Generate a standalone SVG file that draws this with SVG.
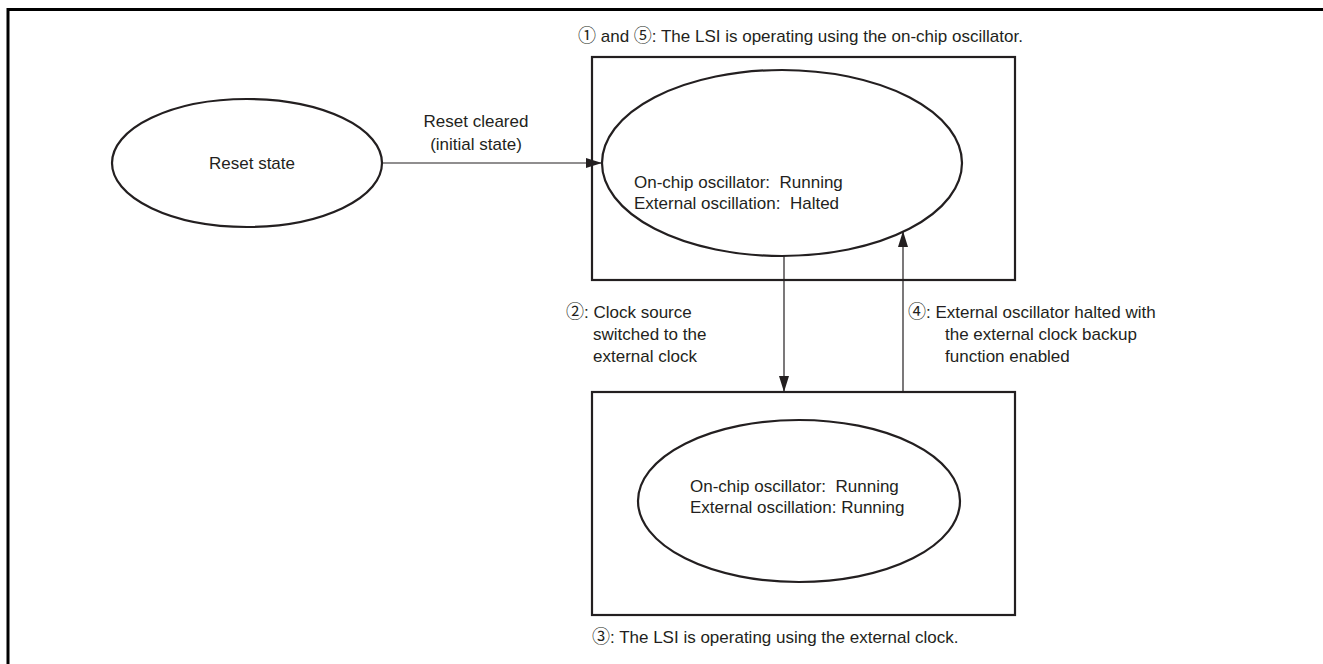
<svg xmlns="http://www.w3.org/2000/svg" width="1323" height="664" viewBox="0 0 1323 664">
  <style>
    text { font-family: "Liberation Sans", "DejaVu Sans", Arial, sans-serif; font-size: 17px; fill: #231f20; white-space: pre; }
    .num { font-family: "Noto Sans CJK JP", "DejaVu Sans", sans-serif; font-size: 18px; }
    .frame { fill: none; stroke: #000; stroke-width: 3; }
    .box { fill: none; stroke: #231f20; stroke-width: 2.2; }
    .state { fill: #fff; stroke: #231f20; stroke-width: 2.2; }
    .link { fill: none; stroke: #231f20; stroke-width: 1.2; }
  </style>
  <defs>
    <marker id="arrow" viewBox="0 0 16 10" refX="16" refY="5" markerWidth="16" markerHeight="10" markerUnits="userSpaceOnUse" orient="auto">
      <path d="M0,0 L16,5 L0,10 Z" fill="#231f20"/>
    </marker>
  </defs>
  <rect width="1323" height="664" fill="#fff"/>

  <!-- outer frame (right and bottom edges run off the sheet) -->
  <path class="frame" d="M8,664 V9.5 H1323"/>

  <!-- operating-mode containers -->
  <g id="mode-onchip">
    <rect class="box" x="592" y="57" width="423" height="223"/>
    <text x="578" y="42" xml:space="preserve"><tspan class="num">①</tspan> and <tspan class="num">⑤</tspan>: The LSI is operating using the on-chip oscillator.</text>
  </g>
  <g id="mode-external">
    <rect class="box" x="592" y="392" width="423" height="223"/>
    <text x="592" y="643" xml:space="preserve"><tspan class="num">③</tspan>: The LSI is operating using the external clock.</text>
  </g>

  <!-- states -->
  <g id="state-reset">
    <ellipse class="state" cx="247" cy="163" rx="135" ry="64"/>
    <text x="252" y="169" text-anchor="middle">Reset state</text>
  </g>
  <g id="state-onchip">
    <ellipse class="state" cx="782" cy="163" rx="180" ry="93"/>
    <text x="634" y="188" xml:space="preserve">On-chip oscillator:  Running</text>
    <text x="634" y="209" xml:space="preserve">External oscillation:  Halted</text>
  </g>
  <g id="state-external">
    <ellipse class="state" cx="799" cy="501" rx="161" ry="81"/>
    <text x="690" y="492" xml:space="preserve">On-chip oscillator:  Running</text>
    <text x="690" y="513" xml:space="preserve">External oscillation: Running</text>
  </g>

  <!-- transitions -->
  <g id="connectors">
    <line class="link" x1="382" y1="163" x2="602" y2="163" marker-end="url(#arrow)"/>
    <line class="link" x1="784" y1="256" x2="784" y2="392" marker-end="url(#arrow)"/>
    <line class="link" x1="903" y1="392" x2="903" y2="231" marker-end="url(#arrow)"/>
  </g>

  <!-- transition labels -->
  <g id="label-reset">
    <text x="476" y="127" text-anchor="middle">Reset cleared</text>
    <text x="476" y="150" text-anchor="middle">(initial state)</text>
  </g>
  <g id="label-switch">
    <text x="566" y="318"><tspan class="num">②</tspan>: Clock source</text>
    <text x="593" y="340">switched to the</text>
    <text x="593" y="362">external clock</text>
  </g>
  <g id="label-backup">
    <text x="908" y="318"><tspan class="num">④</tspan>: External oscillator halted with</text>
    <text x="945" y="340">the external clock backup</text>
    <text x="945" y="362">function enabled</text>
  </g>
</svg>
